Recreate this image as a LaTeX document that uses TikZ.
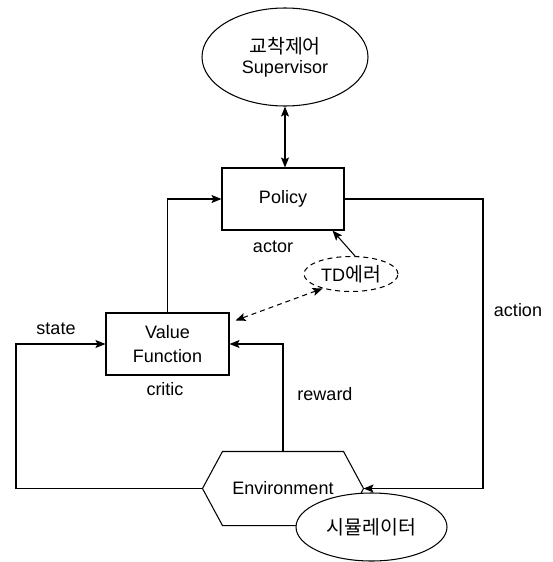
\documentclass[tikz,border=0pt]{standalone}
\usepackage{fontspec}
\setmainfont{Liberation Sans}
\newfontfamily\kr{Noto Sans CJK KR}[Scale=1.08]
\usetikzlibrary{arrows.meta,shapes.geometric}
\begin{document}
\begin{tikzpicture}[x=1pt,y=-1pt, line width=1.05pt,
  >={Stealth[length=10pt,width=8pt,inset=2pt]},
  every node/.style={font=\fontsize{18}{22}\selectfont},
  boxnode/.style={draw, rectangle, inner sep=0pt},
  ell/.style={draw, ellipse, inner sep=0pt},
  lbl/.style={inner sep=0pt},
  dashline/.style={dash pattern=on 5pt off 4pt}]
\useasboundingbox (0,0) rectangle (552,562);
% nodes
\node[ell, minimum width=166pt, minimum height=98pt, align=center] (sup) at (285,57)
  {{\kr 교착제어}\\[-2pt]Supervisor};
\node[boxnode, minimum width=122pt, minimum height=62pt] (pol) at (283,199) {Policy};
\node[boxnode, minimum width=123pt, minimum height=62pt, align=center] (val) at (167.5,344)
  {Value\\[2pt]Function};
\node[ell, dashline, minimum width=94pt, minimum height=35pt] (td) at (351,274) {TD{\kr 에러}};
\node[inner sep=0pt, minimum width=160pt, minimum height=73pt] (env) at (283,488.5) {Environment};
\draw (env.west) -- ([xshift=20pt]env.north west) -- ([xshift=-20pt]env.north east)
  -- (env.east) -- ([xshift=-20pt]env.south east) -- ([xshift=20pt]env.south west) -- cycle;
\node[ell, fill=white, minimum width=151pt, minimum height=68pt] (sim) at (371.5,527) {{\kr 시뮬레이터}};
% labels
\node[lbl] (actor) at (273,247) {actor};
\node[lbl] (critic) at (165,389) {critic};
\node[lbl] (state) at (56,329) {state};
\node[lbl] (reward) at (325,394) {reward};
\node[lbl] (action) at (518,310) {action};
% connectors
\coordinate (ar) at (483,488.5);
\coordinate (sl) at (16,488.5);
\draw[<->] (sup.south) -- (sup.south |- pol.north);
\draw[->] (pol.east) -| (ar) -- (env.east);
\draw[->] (val.north) |- (pol.west);
\draw[->] (env.west) -- (sl) |- (val.west);
\draw[->] (env.north) |- (val.east);
\draw[->] ([xshift=4pt]td.north) -- ([xshift=-12pt]pol.south east);
\draw[<->, dashline] (td.207) -- ([xshift=6pt,yshift=-8pt]val.north east);
\end{tikzpicture}
\end{document}
